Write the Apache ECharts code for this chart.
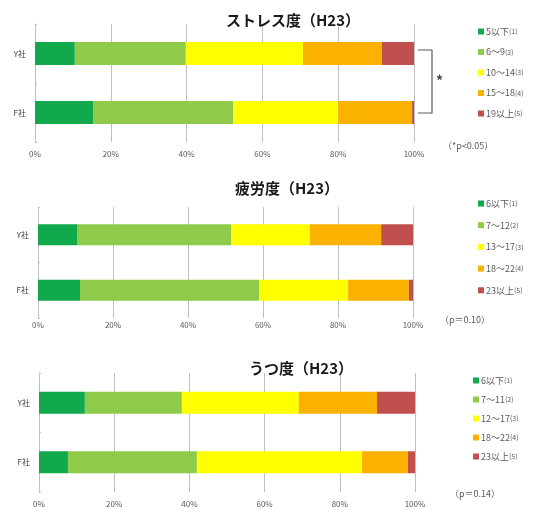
<!DOCTYPE html>
<html>
<head>
<meta charset="utf-8">
<script src="https://cdn.jsdelivr.net/npm/echarts@6/dist/echarts.min.js"></script>
<style>
  html, body { margin: 0; padding: 0; background: #fff; }
  #main { width: 555px; height: 510px; }
</style>
</head>
<body>
<div id="main"></div>
<script>
// カテゴリ（会社）
const categories = ['Y社', 'F社'];
const ticks = [0, 20, 40, 60, 80, 100];

// ストレス度
const stressLevels = ['5以下(1)', '6～9(2)', '10～14(3)', '15～18(4)', '19以上(5)'];
const stressY = [10.5, 29.3, 30.9, 20.8, 8.5];
const stressF = [15.3, 37.0, 27.7, 19.5, 0.5];

// 疲労度
const fatigueLevels = ['6以下(1)', '7～12(2)', '13～17(3)', '18～22(4)', '23以上(5)'];
const fatigueY = [10.4, 41.1, 21.0, 19.0, 8.5];
const fatigueF = [11.2, 47.8, 23.7, 16.2, 1.1];

// うつ度
const depLevels = ['6以下(1)', '7～11(2)', '12～17(3)', '18～22(4)', '23以上(5)'];
const depY = [12.2, 25.8, 31.1, 20.8, 10.1];
const depF = [7.7, 34.3, 43.9, 12.2, 1.9];

const colors = ['#12a84c', '#8fcb4b', '#ffff00', '#fbb100', '#c0504d'];
const font = '"Noto Sans CJK JP", "Noto Sans", sans-serif';

const charts = [
  { title: 'ストレス度（H23）', levels: stressLevels, y: stressY, f: stressF,
    grid: { left: 35, right: 141, top: 24, height: 118 }, barWidth: 23, labelMargin: 8,
    titlePos: [288, 8], legend: { left: 473, top: 22, itemGap: 11.5 } },
  { title: '疲労度（H23）', levels: fatigueLevels, y: fatigueY, f: fatigueF,
    grid: { left: 38, right: 142, top: 207, height: 111 }, barWidth: 21, labelMargin: 3,
    titlePos: [282, 176], legend: { left: 473, top: 194, itemGap: 12.7 } },
  { title: 'うつ度（H23）', levels: depLevels, y: depY, f: depF,
    grid: { left: 39, right: 140, top: 373, height: 119 }, barWidth: 22, labelMargin: 8,
    titlePos: [296, 356], legend: { left: 468, top: 371, itemGap: 10 } }
];

const myChart = echarts.init(document.getElementById('main'));

let titles = [], grids = [], xAxes = [], yAxes = [], legends = [], series = [];

charts.forEach((c, ci) => {
  titles.push({
    text: c.title,
    left: c.titlePos[0], top: c.titlePos[1],
    textAlign: 'center',
    textStyle: { fontFamily: font, fontSize: 15, fontWeight: 'bold', color: '#1a1a1a' }
  });
  grids.push(c.grid);
  xAxes.push({
    type: 'value', gridIndex: ci, min: 0, max: 100, interval: 20,
    axisLine: { show: false }, axisTick: { show: false },
    axisLabel: { formatter: '{value}%', fontSize: 8, color: '#595959', margin: c.labelMargin, fontFamily: font },
    splitLine: { lineStyle: { color: '#bfbfbf', width: 1 } }
  });
  yAxes.push({
    type: 'category', gridIndex: ci, data: categories, inverse: true,
    axisLine: { lineStyle: { color: '#bfbfbf' } },
    axisTick: { show: true, inside: true, length: 2, lineStyle: { color: '#bfbfbf' } },
    axisLabel: { fontSize: 8, color: '#404040', margin: 9, fontFamily: font }
  });
  legends.push({
    orient: 'vertical',
    left: c.legend.left, top: c.legend.top, itemGap: c.legend.itemGap,
    itemWidth: 6, itemHeight: 6, icon: 'rect',
    data: c.levels,
    formatter: name => {
      const m = name.match(/^(.*)(\(\d\))$/);
      return '{a|' + m[1] + '}{b|' + m[2] + '}';
    },
    textStyle: {
      color: '#595959', fontFamily: font, padding: [0, 0, 0, -3],
      rich: {
        a: { fontSize: 9, color: '#595959', lineHeight: 12 },
        b: { fontSize: 7, color: '#595959', lineHeight: 12 }
      }
    }
  });
  c.levels.forEach((lv, i) => {
    series.push({
      name: lv,
      type: 'bar',
      stack: 'chart' + ci,
      xAxisIndex: ci, yAxisIndex: ci,
      barWidth: c.barWidth,
      itemStyle: { color: colors[i] },
      emphasis: { disabled: true },
      data: [c.y[i], c.f[i]]
    });
  });
});

const option = {
  animation: false,
  title: titles,
  grid: grids,
  xAxis: xAxes,
  yAxis: yAxes,
  legend: legends,
  series: series,
  graphic: [
    // 有意差の括弧
    { type: 'polyline', shape: { points: [[418, 50], [432, 50], [432, 113], [418, 113]] },
      style: { stroke: '#595959', lineWidth: 1.2, fill: null } },
    { type: 'text', left: 436, top: 74, style: { text: '*', fontSize: 14, fontWeight: 'bold', fill: '#404040', fontFamily: font } },
    { type: 'text', left: 443, top: 141, style: { text: '（*p<0.05）', fontSize: 9, fill: '#595959', fontFamily: font } },
    { type: 'text', left: 440, top: 315, style: { text: '（p＝0.10）', fontSize: 9, fill: '#595959', fontFamily: font } },
    { type: 'text', left: 450, top: 489, style: { text: '（p＝0.14）', fontSize: 9, fill: '#595959', fontFamily: font } }
  ]
};

myChart.setOption(option, true);
</script>
</body>
</html>
